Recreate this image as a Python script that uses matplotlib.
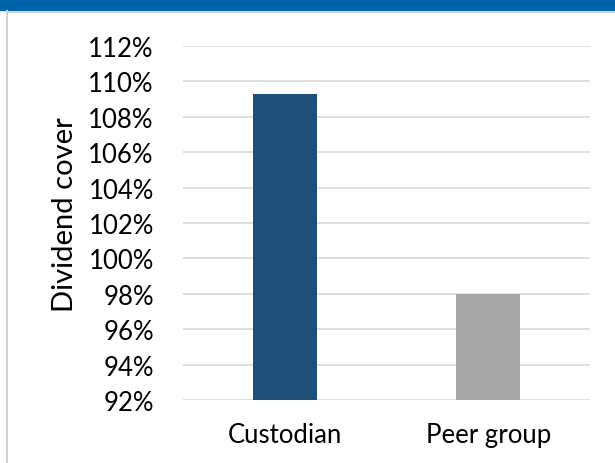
import matplotlib.pyplot as plt
from matplotlib.patches import Rectangle
from matplotlib.lines import Line2D
from matplotlib import ticker

categories = ["Custodian", "Peer group"]
values = [109.3, 98.0]
colors = ["#1f4e79", "#a5a5a5"]
yticks = list(range(92, 113, 2))

plt.rcParams['font.family'] = ['Lato', 'DejaVu Sans']

fig = plt.figure(figsize=(6.15, 4.64), dpi=100)

# blue band on top and gray frame
fig.patches.append(Rectangle((0, 1 - 11 / 464), 1, 11 / 464, transform=fig.transFigure,
                             color="#0064ad", zorder=0))
fig.lines.append(Line2D([7 / 615, 7 / 615], [0, 1 - 12 / 464], transform=fig.transFigure,
                        color="#d0d0d0", lw=1.5))
fig.lines.append(Line2D([7 / 615, 1], [1 - 12.5 / 464, 1 - 12.5 / 464], transform=fig.transFigure,
                        color="#d0d0d0", lw=1.0))

ax = fig.add_axes([183 / 615, 1 - 401 / 464, 407 / 615, 354 / 464])
x = range(len(categories))
ax.bar(x, [v - 92 for v in values], bottom=92, width=0.315, color=colors, zorder=3)

ax.set_ylim(92, 112)
ax.set_xlim(-0.5, 1.5)
ax.set_yticks(yticks)
ax.yaxis.set_major_formatter(ticker.FuncFormatter(lambda v, p: f"{v:.0f}%"))
ax.set_xticks(list(x))
ax.set_xticklabels(categories)
ax.grid(axis="y", color="#d9d9d9", lw=1.2, zorder=0)
for s in ax.spines.values():
    s.set_visible(False)
ax.tick_params(length=0, labelsize=18.5, colors="black")
ax.tick_params(axis="x", labelsize=18.5, pad=16)
ax.tick_params(axis="y", pad=21)
ax.set_ylabel("Dividend cover", fontsize=21)
ax.yaxis.set_label_coords(-0.257, 0.527)

fig.savefig("out.png", dpi=100)
